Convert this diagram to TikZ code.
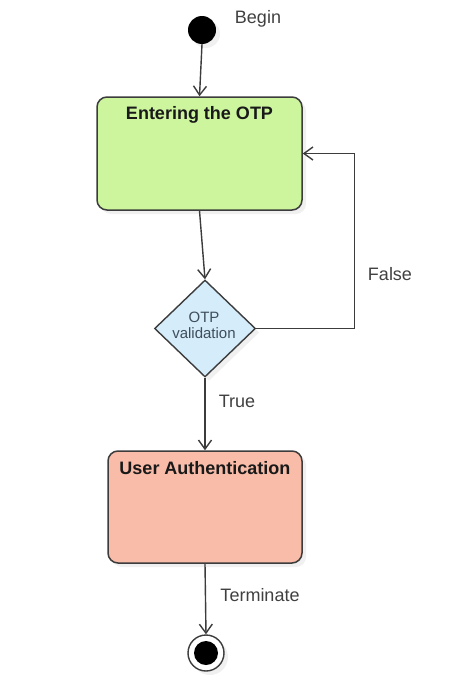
\documentclass[tikz,border=0pt]{standalone}
\usepackage{fontspec}
\setmainfont{Liberation Sans}
\usetikzlibrary{arrows.meta,shapes.geometric,shadows}
\definecolor{lineC}{HTML}{3C3C3C}
\definecolor{greenF}{HTML}{CCF59E}
\definecolor{salmonF}{HTML}{F9BCA8}
\definecolor{blueF}{HTML}{D5ECFA}
\definecolor{txtC}{HTML}{404040}
\definecolor{diaTxt}{HTML}{3E4E5C}
\tikzset{
  shade/.style={drop shadow={opacity=0.12,shadow xshift=4pt,shadow yshift=-4pt}},
  statebox/.style={draw=lineC,line width=1.5pt,rounded corners=10pt,inner sep=0pt,shade},
  titletext/.style={font=\fontsize{18}{20}\selectfont\bfseries,text=black!90,inner sep=0pt,anchor=north},
  lbl/.style={font=\fontsize{18}{20}\selectfont,text=txtC,inner sep=0pt},
  conn/.style={draw=lineC,line width=1.4pt,-{Straight Barb[length=9pt,width=13pt,line width=1.4pt]}},
  decision/.style={diamond,draw=lineC,line width=1.4pt,fill=blueF,inner sep=0pt,minimum width=101pt,minimum height=97pt,shade},
}
\begin{document}
\begin{tikzpicture}[x=1pt,y=-1pt]
\useasboundingbox (0,0) rectangle (474,699);
% start
\node[circle,fill=black,minimum size=28pt,inner sep=0pt,shade] (start) at (202,30) {};
\node[lbl] (begin) at (258,19) {Begin};
% box 1
\node[statebox,fill=greenF,minimum width=205pt,minimum height=113pt] (box1) at (199.5,153.5) {};
\node[titletext] (t1) at ([yshift=-10pt]box1.north) {Entering the OTP};
% decision
\node[decision] (dia) at (205,328.5) {};
\node[font=\fontsize{15}{16}\selectfont,text=diaTxt,align=center,inner sep=0pt] (dt) at (204,325) {OTP\\validation};
% box 2
\node[statebox,fill=salmonF,minimum width=194pt,minimum height=112pt] (box2) at (205,507) {};
\node[titletext] (t2) at ([yshift=-11pt]box2.north) {User Authentication};
% end
\node[circle,draw=lineC,line width=1.4pt,fill=white,minimum size=36pt,inner sep=0pt,shade] (endo) at (206,653) {};
\node[circle,fill=black,minimum size=24pt,inner sep=0pt] (endi) at (endo.center) {};
% connectors
\draw[conn] (start.south) -- (box1.north);
\draw[conn] (box1.south) -- (dia.north);
\draw[conn] (dia.east) -- ++(98,0) |- (box1.east);
\draw[conn] (dia.south) -- (box2.north);
\draw[conn] (box2.south) -- (endo.north);
% labels
\node[lbl] (lf) at (390,274) {False};
\node[lbl] (lt) at (237,401) {True};
\node[lbl] (lterm) at (260,595) {Terminate};
\end{tikzpicture}
\end{document}
